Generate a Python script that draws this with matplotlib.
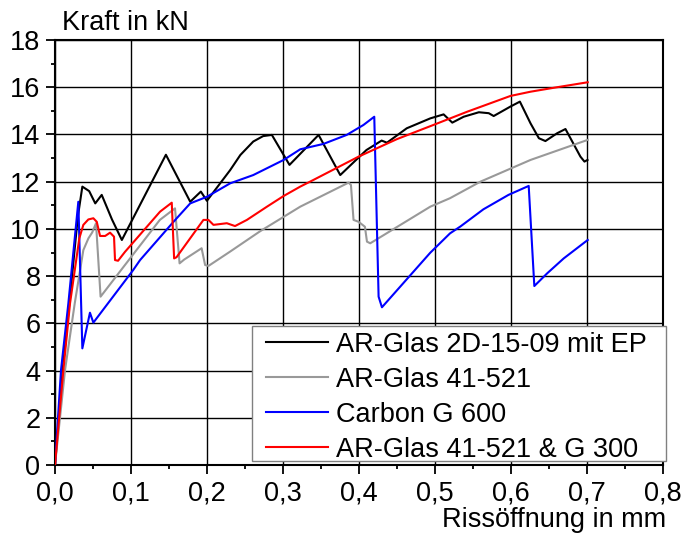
import numpy as np
import matplotlib
matplotlib.use("Agg")
import matplotlib.pyplot as plt
from matplotlib.patches import Rectangle
from matplotlib.ticker import MultipleLocator, FuncFormatter

plt.rcParams['font.family'] = ['Liberation Sans', 'DejaVu Sans']

# AR-Glas 2D-15-09 mit EP
x_black = [0.0, 0.01, 0.02, 0.03, 0.036, 0.045, 0.053, 0.0615, 0.075, 0.088, 0.146, 0.178, 0.192, 0.2,
           0.2306, 0.244, 0.261, 0.274, 0.2855, 0.3087, 0.347, 0.3755, 0.41, 0.43, 0.437, 0.463,
           0.494, 0.5116, 0.523, 0.538, 0.558, 0.571, 0.5775, 0.5995, 0.612, 0.626, 0.637,
           0.6456, 0.661, 0.672, 0.6917, 0.697, 0.701]
y_black = [0.0, 4.0, 7.2, 10.5, 11.79, 11.6, 11.08, 11.44, 10.4, 9.53, 13.14, 11.15, 11.58, 11.19,
           12.49, 13.13, 13.7, 13.93, 13.98, 12.71, 13.98, 12.28, 13.34, 13.74, 13.65, 14.26,
           14.68, 14.85, 14.5, 14.75, 14.94, 14.9, 14.78, 15.18, 15.39, 14.47, 13.84,
           13.72, 14.05, 14.23, 13.06, 12.85, 12.92]

# AR-Glas 41-521
x_gray = [0.0, 0.0132, 0.026, 0.0373, 0.044, 0.049, 0.054, 0.060, 0.10, 0.138, 0.158, 0.164, 0.17,
          0.193, 0.1976, 0.202, 0.2306, 0.27, 0.3228, 0.3865, 0.3896, 0.393, 0.3997, 0.408,
          0.4107, 0.415, 0.494, 0.52, 0.56, 0.626, 0.7013]
y_gray = [0.0, 4.02, 6.85, 9.1, 9.6, 9.85, 10.24, 7.13, 8.8, 10.38, 10.87, 8.54, 8.7,
          9.18, 8.47, 8.43, 9.04, 9.9, 10.94, 11.96, 11.86, 10.38, 10.3, 10.09,
          9.46, 9.39, 10.94, 11.3, 12.0, 12.92, 13.77]

# Carbon G 600
x_blue = [0.0, 0.0079, 0.0176, 0.0307, 0.036, 0.046, 0.0505, 0.103, 0.112, 0.156, 0.178, 0.2,
          0.2306, 0.261, 0.301, 0.3228, 0.3535, 0.384, 0.406, 0.4203, 0.426, 0.4304, 0.494,
          0.52, 0.5336, 0.564, 0.597, 0.6236, 0.631, 0.648, 0.6697, 0.7013]
y_blue = [0.0, 4.02, 6.85, 11.15, 4.94, 6.45, 6.03, 8.26, 8.68, 10.3, 11.08, 11.36,
          11.93, 12.28, 12.92, 13.37, 13.6, 13.98, 14.4, 14.75, 7.13, 6.68, 8.99,
          9.81, 10.1, 10.83, 11.44, 11.82, 7.58, 8.12, 8.75, 9.53]

# AR-Glas 41-521 & G 300
x_red = [0.0, 0.011, 0.0198, 0.032, 0.0373, 0.0439, 0.0505, 0.055, 0.0593, 0.066, 0.0725, 0.0777,
         0.079, 0.083, 0.0922, 0.1383, 0.1537, 0.1568, 0.16, 0.1954, 0.202, 0.2086, 0.2262,
         0.237, 0.2526, 0.279, 0.3008, 0.3228, 0.340, 0.3996, 0.45, 0.498, 0.5424, 0.5995,
         0.626, 0.661, 0.7013]
y_red = [0.0, 4.02, 6.85, 9.6, 10.17, 10.4, 10.45, 10.3, 9.7, 9.7, 9.84, 9.67,
         8.68, 8.65, 9.03, 10.73, 11.11, 8.75, 8.8, 10.38, 10.38, 10.17, 10.24,
         10.12, 10.38, 10.94, 11.39, 11.79, 12.07, 13.06, 13.8, 14.4, 14.96, 15.63,
         15.81, 16.0, 16.21]

labels = ["AR-Glas 2D-15-09 mit EP", "AR-Glas 41-521", "Carbon G 600", "AR-Glas 41-521 & G 300"]
colors = ["#000000", "#999999", "#0000FF", "#FF0000"]

fs = 19.5
fig = plt.figure(figsize=(6.84, 5.43), dpi=100)
ax = fig.add_axes([55/684, 1-465/543, (662.7-55)/684, (465-40)/543])

series = [(x_black, y_black), (x_gray, y_gray), (x_blue, y_blue), (x_red, y_red)]
for (xs, ys), c, lab in zip(series, colors, labels):
    ax.plot(xs, ys, color=c, lw=1.5, label=lab, zorder=3)

ax.set_xlim(0, 0.8)
ax.set_ylim(0, 18)
ax.xaxis.set_major_locator(MultipleLocator(0.1))
ax.xaxis.set_minor_locator(MultipleLocator(0.05))
ax.yaxis.set_major_locator(MultipleLocator(2))
ax.yaxis.set_minor_locator(MultipleLocator(1))
ax.xaxis.set_major_formatter(FuncFormatter(lambda v, p: f"{v:.1f}".replace(".", ",")))
ax.yaxis.set_major_formatter(FuncFormatter(lambda v, p: f"{v:.0f}"))
ax.tick_params(which='major', direction='out', length=6.5, width=1.3, labelsize=fs, pad=4)
ax.tick_params(which='minor', direction='out', length=3, width=1.3)
ax.tick_params(axis='x', which='major', pad=5)
ax.grid(True, which='major', color='black', lw=1.0)
for s in ax.spines.values():
    s.set_linewidth(1.5)

ax.text(0.012, 1.0235, "Kraft in kN", transform=ax.transAxes, fontsize=fs, ha='left', va='baseline')
ax.text(1.005, -0.146, "Rissöffnung in mm", transform=ax.transAxes, fontsize=fs, ha='right', va='baseline')

# legend frame drawn separately (wider horizontal padding than matplotlib's borderpad)
frame = Rectangle((0.324, 0.009), 0.682, 0.318, transform=ax.transAxes, facecolor='white',
                  edgecolor='#808080', lw=1.0, zorder=4, clip_on=False)
ax.add_patch(frame)
leg = ax.legend(loc='upper left', bbox_to_anchor=(0.347, 0.313), borderaxespad=0, borderpad=0,
                fontsize=fs, frameon=False, handlelength=2.3, handletextpad=0.3, labelspacing=0.33)
leg.set_zorder(5)

fig.savefig("out.png", dpi=100)
